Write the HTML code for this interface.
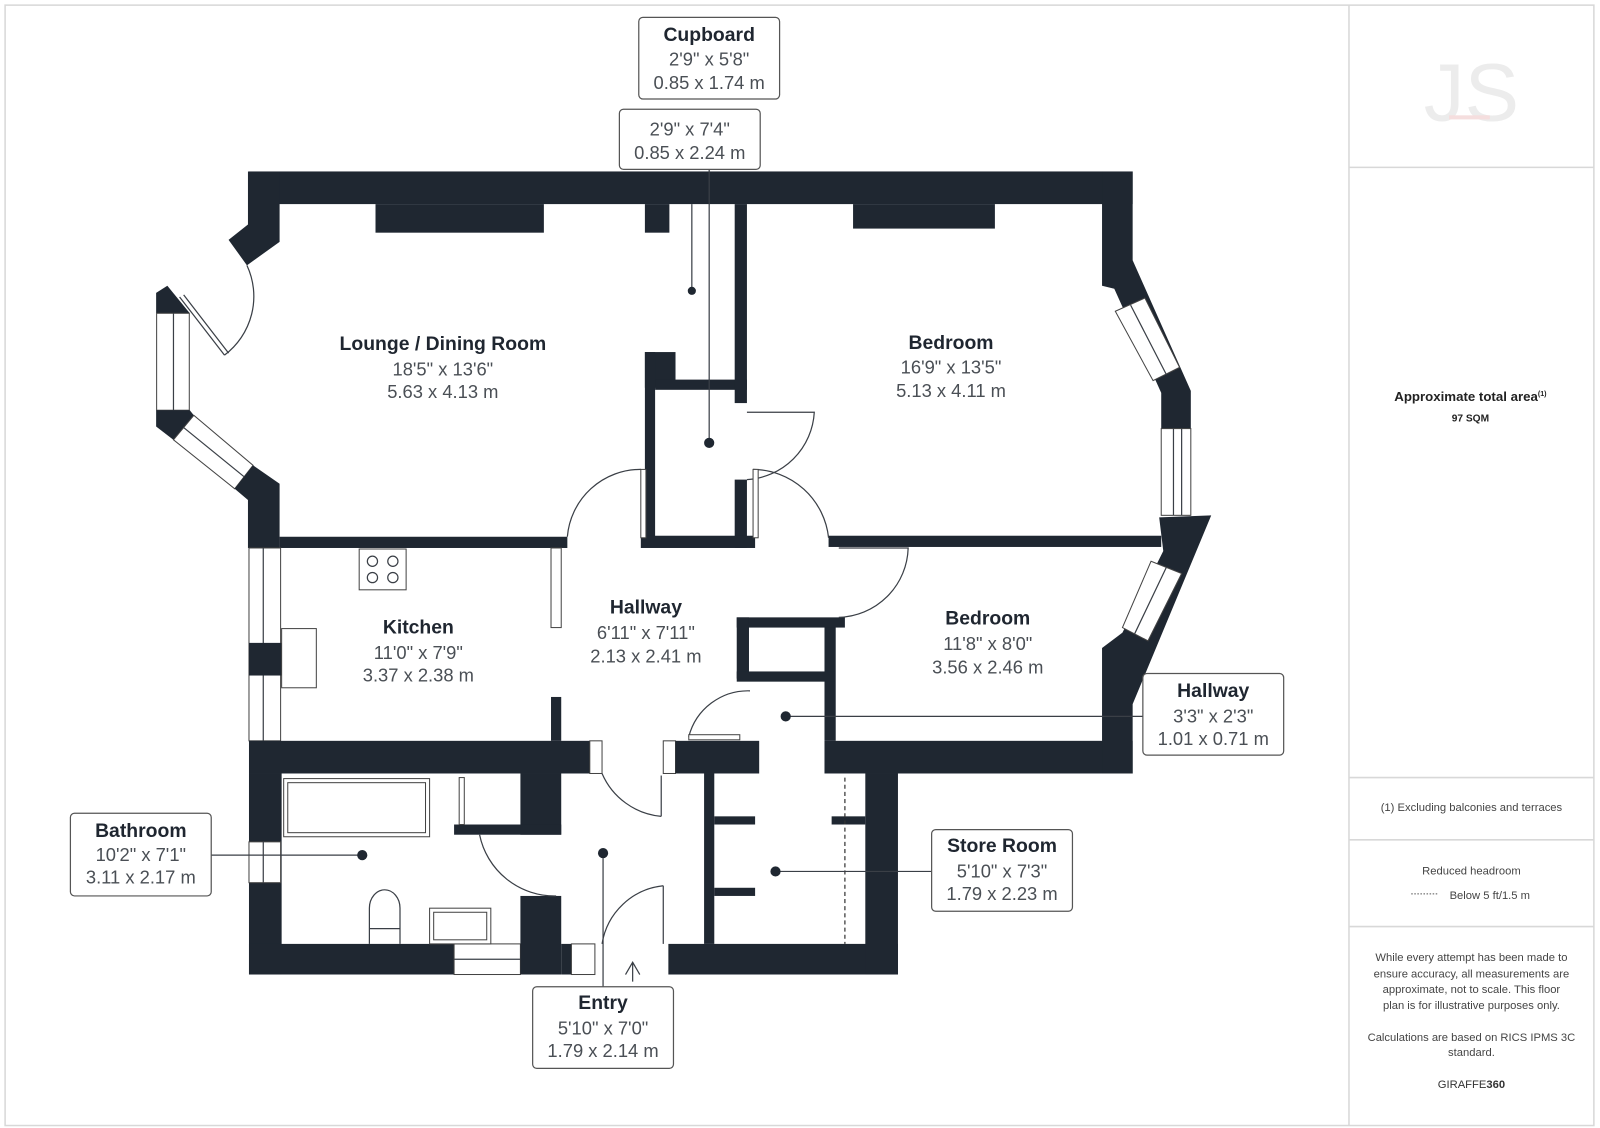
<!DOCTYPE html>
<html><head><meta charset="utf-8"><style>
html,body{margin:0;padding:0;background:#fff;}
svg{display:block}
text{font-family:"Liberation Sans",sans-serif;}
.t{font-weight:bold;font-size:19px;fill:#1f2630;text-anchor:middle}
.d{font-size:18px;fill:#4a4f55;text-anchor:middle}
.w{fill:#1f2731}
.ln{stroke:#3a3f46;stroke-width:1.2;fill:none}
.win{fill:#fff;stroke:#444;stroke-width:1}
.box{fill:#fff;stroke:#555;stroke-width:1.2}
.p{font-size:11px;fill:#444;text-anchor:middle}
</style></head><body>
<svg width="1600" height="1128" viewBox="0 0 1568 1105.4" xmlns="http://www.w3.org/2000/svg">
<rect x="5" y="5" width="1557" height="1098" fill="none" stroke="#d8d8d8" stroke-width="1.5"/>
<line x1="1322" y1="5" x2="1322" y2="1103" stroke="#d8d8d8" stroke-width="1.5"/>
<line x1="1322" y1="164" x2="1562" y2="164" stroke="#d8d8d8" stroke-width="1.5"/>
<line x1="1322" y1="762" x2="1562" y2="762" stroke="#d8d8d8" stroke-width="1.5"/>
<line x1="1322" y1="823" x2="1562" y2="823" stroke="#d8d8d8" stroke-width="1.5"/>
<line x1="1322" y1="908" x2="1562" y2="908" stroke="#d8d8d8" stroke-width="1.5"/>
<!-- logo -->
<text x="1442" y="118" font-family="Liberation Serif,serif" font-size="80" fill="#ececec" text-anchor="middle">JS</text>
<rect x="1420" y="113" width="40" height="4" fill="#f5dede"/>

<!-- walls -->
<rect class="w" x="244" y="168" width="866" height="32"/>
<polygon class="w" points="243,168 274,168 274,237 242,260 224,235 243,220"/>
<polygon class="w" points="153,307 153,287 164,280 186,307"/>
<rect class="win" x="153.5" y="307" width="32" height="95"/>
<line class="ln" x1="170" y1="307" x2="170" y2="402"/>
<polygon class="w" points="153,402 186,402 190,407 170,431 153,418"/>
<polygon class="win" points="170,431 190,407 248,456 230,479"/>
<line class="ln" x1="180" y1="419" x2="239" y2="467"/>
<polygon class="w" points="248,456 274,474 274,537 243,537 243,490 230,479"/>
<line class="ln" x1="176" y1="291" x2="220" y2="348"/>
<line class="ln" x1="180" y1="289" x2="224" y2="346"/>
<path class="ln" d="M242,260 A72,72 0 0 1 220,348"/>
<rect class="w" x="368" y="200" width="165" height="28"/>
<rect class="w" x="632" y="200" width="24" height="28"/>
<rect class="w" x="836" y="200" width="139" height="24"/>
<rect class="w" x="274" y="526" width="282" height="11"/>
<!-- kitchen left -->
<rect class="win" x="244" y="537" width="31" height="189"/>
<line class="ln" x1="258" y1="537" x2="258" y2="726"/>
<rect class="w" x="244" y="630" width="32" height="32"/>
<rect class="w" x="244" y="726" width="341" height="32"/>
<rect class="w" x="244" y="758" width="32" height="197"/>
<rect class="win" x="244" y="825" width="31" height="40"/>
<line class="ln" x1="258" y1="825" x2="258" y2="865"/>
<rect class="w" x="244" y="925" width="201" height="30"/>
<rect class="win" x="445" y="925" width="65" height="30"/>
<line class="ln" x1="445" y1="940" x2="510" y2="940"/>
<rect class="w" x="510" y="878" width="40" height="77"/>
<rect class="w" x="550" y="925" width="10" height="30"/>
<rect class="win" x="560" y="925" width="23" height="30"/>
<rect class="w" x="510" y="758" width="40" height="60"/>
<rect class="w" x="445" y="808" width="105" height="10"/>
<rect class="win" x="578" y="726" width="12" height="32"/>
<rect class="w" x="540" y="683" width="10" height="43"/>
<rect class="win" x="540" y="537" width="10" height="78"/>
<!-- entry right -->
<rect class="win" x="650" y="726" width="12" height="32"/>
<rect class="w" x="662" y="726" width="82" height="32"/>
<rect class="w" x="655" y="925" width="225" height="30"/>
<rect class="w" x="690" y="758" width="10" height="167"/>
<rect class="w" x="700" y="800" width="40" height="8"/>
<rect class="w" x="700" y="870" width="40" height="8"/>
<rect class="w" x="815" y="800" width="33" height="8"/>
<rect class="w" x="848" y="758" width="32" height="197"/>
<rect class="w" x="808" y="726" width="302" height="32"/>
<rect class="w" x="808" y="610" width="11" height="116"/>
<line x1="828" y1="762" x2="828" y2="925" stroke="#333" stroke-width="1.2" stroke-dasharray="4,3"/>
<!-- small closet -->
<rect class="w" x="722" y="605" width="106" height="10"/>
<rect class="w" x="722" y="605" width="12" height="60"/>
<rect class="w" x="722" y="658" width="96" height="10"/>
<!-- cupboard -->
<rect class="w" x="632" y="345" width="30" height="35"/>
<rect class="w" x="632" y="345" width="10" height="190"/>
<rect class="w" x="642" y="372" width="90" height="10"/>
<rect class="w" x="720" y="200" width="12" height="195"/>
<rect class="w" x="720" y="470" width="12" height="67"/>
<rect class="w" x="628" y="525" width="112" height="12"/>
<rect class="w" x="812" y="525" width="326" height="11"/>
<!-- right bay -->
<polygon class="w" points="1080,168 1110,168 1110,255 1167,383 1167,420 1138,420 1138,385 1092,283 1080,280"/>
<polygon class="win" points="1093,305 1122,292 1156,360 1130,373"/>
<line class="ln" x1="1108" y1="299" x2="1143" y2="367"/>
<rect class="win" x="1138" y="420" width="29" height="85"/>
<line class="ln" x1="1150" y1="420" x2="1150" y2="505"/>
<line class="ln" x1="1158" y1="420" x2="1158" y2="505"/>
<polygon class="w" points="1136,507 1187,505 1110,690 1110,758 1080,758 1080,635 1100,620 1140,540"/>
<polygon class="win" points="1128,550 1158,562 1125,628 1100,615"/>
<line class="ln" x1="1143" y1="556" x2="1112" y2="621"/>
<!-- doors -->
<path class="ln" d="M556,526 A72,72 0 0 1 628,460"/>
<rect class="win" x="628" y="460" width="5" height="67"/>
<path class="ln" d="M732,404 L798,404 A70,70 0 0 1 732,470"/>
<path class="ln" d="M738,460 A75,75 0 0 1 812,527"/>
<rect class="win" x="738" y="460" width="5" height="67"/>
<path class="ln" d="M822,537 L890,537 A70,70 0 0 1 822,605"/>
<path class="ln" d="M735,677 A60,60 0 0 0 675,722"/>
<rect class="win" x="675" y="720" width="50" height="5"/>
<path class="ln" d="M470,818 A75,75 0 0 0 545,878"/>
<path class="ln" d="M590,758 A70,70 0 0 0 648,800"/>
<line class="ln" x1="648" y1="760" x2="648" y2="800"/>
<path class="ln" d="M590,925 A68,68 0 0 1 650,868"/>
<line class="ln" x1="650" y1="868" x2="650" y2="925"/>
<path class="ln" d="M613,955 L620,943 L627,955 M620,943 L620,962"/>
<!-- fixtures -->
<rect class="win" x="352" y="538" width="46" height="40"/>
<circle class="ln" cx="365" cy="550" r="5"/><circle class="ln" cx="385" cy="550" r="5"/>
<circle class="ln" cx="365" cy="566" r="5"/><circle class="ln" cx="385" cy="566" r="5"/>
<rect class="win" x="276" y="616" width="34" height="58"/>
<rect class="win" x="278" y="763" width="143" height="57"/>
<rect class="win" x="282" y="767" width="135" height="49"/>
<rect class="win" x="450" y="762" width="5" height="46"/>
<path class="ln" d="M362,925 L362,890 A15,18 0 0 1 392,890 L392,925 M362,910 L392,910"/>
<rect class="win" x="421" y="890" width="60" height="35"/>
<rect class="win" x="425" y="894" width="52" height="27"/>
<!-- leader lines -->
<line class="ln" x1="678" y1="200" x2="678" y2="285"/><circle cx="678" cy="285" r="4" fill="#1f2731"/>
<line class="ln" x1="695" y1="166" x2="695" y2="434"/><circle cx="695" cy="434" r="5" fill="#1f2731"/>
<line class="ln" x1="770" y1="702" x2="1120" y2="702"/><circle cx="770" cy="702" r="5" fill="#1f2731"/>
<line class="ln" x1="207" y1="838" x2="355" y2="838"/><circle cx="355" cy="838" r="5" fill="#1f2731"/>
<line class="ln" x1="760" y1="854" x2="913" y2="854"/><circle cx="760" cy="854" r="5" fill="#1f2731"/>
<line class="ln" x1="591" y1="836" x2="591" y2="967"/><circle cx="591" cy="836" r="5" fill="#1f2731"/>
<!-- labels -->
<rect class="box" x="626" y="17" width="138" height="80" rx="4"/>
<text class="t" x="695" y="40">Cupboard</text><text class="d" x="695" y="64">2'9" x 5'8"</text><text class="d" x="695" y="87">0.85 x 1.74 m</text>
<rect class="box" x="607" y="107" width="138" height="59" rx="4"/>
<text class="d" x="676" y="133">2'9" x 7'4"</text><text class="d" x="676" y="156">0.85 x 2.24 m</text>
<text class="t" x="434" y="343">Lounge / Dining Room</text><text class="d" x="434" y="368">18'5" x 13'6"</text><text class="d" x="434" y="390">5.63 x 4.13 m</text>
<text class="t" x="932" y="342">Bedroom</text><text class="d" x="932" y="366">16'9" x 13'5"</text><text class="d" x="932" y="389">5.13 x 4.11 m</text>
<text class="t" x="410" y="621">Kitchen</text><text class="d" x="410" y="646">11'0" x 7'9"</text><text class="d" x="410" y="668">3.37 x 2.38 m</text>
<text class="t" x="633" y="601">Hallway</text><text class="d" x="633" y="626">6'11" x 7'11"</text><text class="d" x="633" y="649">2.13 x 2.41 m</text>
<text class="t" x="968" y="612">Bedroom</text><text class="d" x="968" y="637">11'8" x 8'0"</text><text class="d" x="968" y="660">3.56 x 2.46 m</text>
<rect class="box" x="1120" y="660" width="138" height="80" rx="4"/>
<text class="t" x="1189" y="683">Hallway</text><text class="d" x="1189" y="708">3'3" x 2'3"</text><text class="d" x="1189" y="730">1.01 x 0.71 m</text>
<rect class="box" x="69" y="797" width="138" height="81" rx="4"/>
<text class="t" x="138" y="820">Bathroom</text><text class="d" x="138" y="844">10'2" x 7'1"</text><text class="d" x="138" y="866">3.11 x 2.17 m</text>
<rect class="box" x="913" y="813" width="138" height="80" rx="4"/>
<text class="t" x="982" y="835">Store Room</text><text class="d" x="982" y="860">5'10" x 7'3"</text><text class="d" x="982" y="882">1.79 x 2.23 m</text>
<rect class="box" x="522" y="967" width="138" height="80" rx="4"/>
<text class="t" x="591" y="989">Entry</text><text class="d" x="591" y="1014">5'10" x 7'0"</text><text class="d" x="591" y="1036">1.79 x 2.14 m</text>
<!-- right panel text -->
<text x="1441" y="393" font-size="13" font-weight="bold" fill="#222" text-anchor="middle">Approximate total area<tspan font-size="7" dy="-5">(1)</tspan></text>
<text x="1441" y="413" font-size="10" font-weight="bold" fill="#222" text-anchor="middle">97 SQM</text>
<text class="p" x="1442" y="795">(1) Excluding balconies and terraces</text>
<text class="p" x="1442" y="857">Reduced headroom</text>
<line x1="1383" y1="876" x2="1410" y2="876" stroke="#555" stroke-dasharray="1.5,1.5"/>
<text class="p" x="1460" y="881">Below 5 ft/1.5 m</text>
<text class="p" x="1442" y="942">While every attempt has been made to</text>
<text class="p" x="1442" y="958">ensure accuracy, all measurements are</text>
<text class="p" x="1442" y="973">approximate, not to scale. This floor</text>
<text class="p" x="1442" y="989">plan is for illustrative purposes only.</text>
<text class="p" x="1442" y="1020">Calculations are based on RICS IPMS 3C</text>
<text class="p" x="1442" y="1035">standard.</text>
<text x="1442" y="1066" font-size="11" fill="#333" text-anchor="middle">GIRAFFE<tspan font-weight="bold">360</tspan></text>
</svg>
</body></html>
